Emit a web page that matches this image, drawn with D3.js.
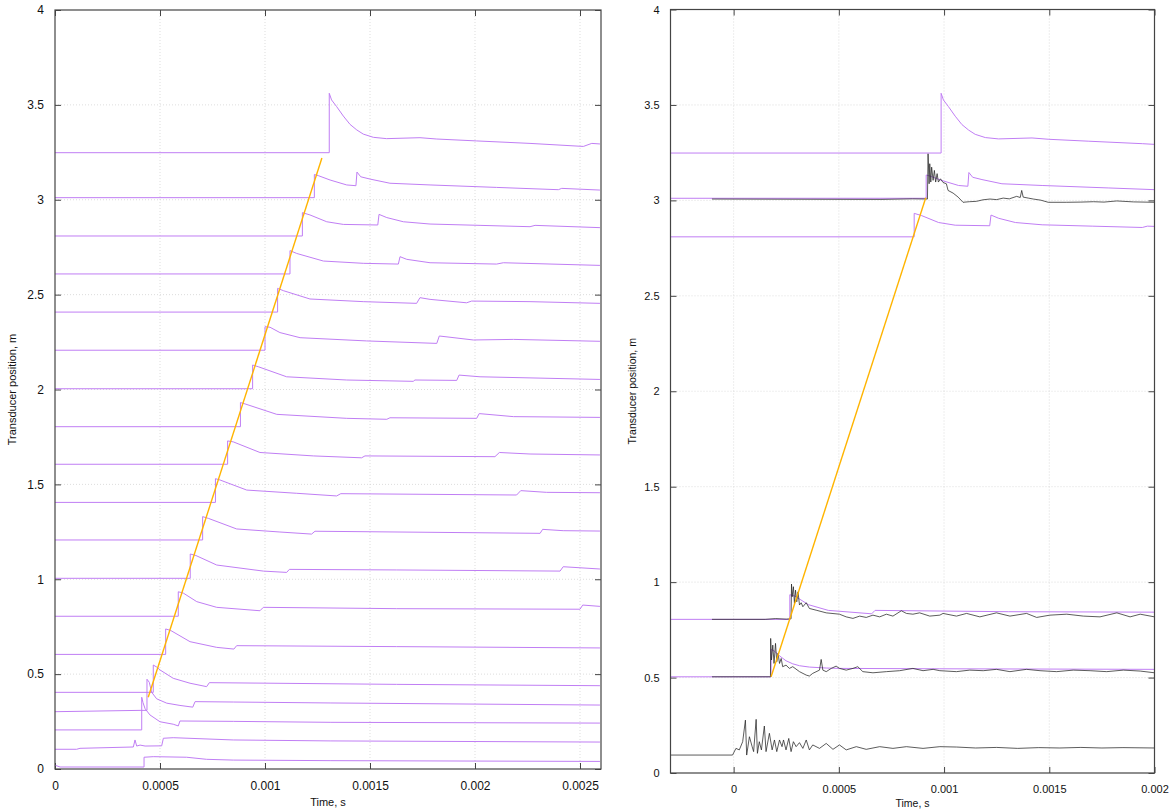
<!DOCTYPE html>
<html>
<head>
<meta charset="utf-8">
<script src="https://cdn.jsdelivr.net/npm/d3@7"></script>
<style>
  html, body { margin: 0; padding: 0; background: #fff; }
  svg { display: block; font-family: "Liberation Sans", Arial, sans-serif; }
</style>
</head>
<body>
<svg id="chart" width="1172" height="812"></svg>
<script>
// ---- axis ticks ----
const yTickValues = [0, 0.5, 1, 1.5, 2, 2.5, 3, 3.5, 4];
const xTickValuesLeft = [0, 0.0005, 0.001, 0.0015, 0.002, 0.0025];
const xTickValuesRight = [0, 0.0005, 0.001, 0.0015, 0.002];
const xDomainLeft = [0, 0.0026];
const xDomainRight = [-0.0003, 0.002];
const yDomain = [0, 4];
const xLabel = "Time, s";
const yLabel = "Transducer position, m";

// ---- simulated gauge traces [time s, position m] ----
const sim325 = [[0,3.248],[0.001306,3.248],[0.001306,3.561],[0.001317,3.526],[0.001341,3.491],[0.001373,3.441],[0.001405,3.397],[0.001437,3.368],[0.001468,3.346],[0.001516,3.329],[0.001579,3.322],[0.001738,3.327],[0.001818,3.320],[0.002008,3.310],[0.002262,3.297],[0.002516,3.281],[0.002556,3.297],[0.002595,3.294]];
const sim301 = [[0,3.011],[0.001235,3.011],[0.001235,3.133],[0.001254,3.127],[0.001310,3.104],[0.001389,3.078],[0.001433,3.074],[0.001438,3.146],[0.001456,3.121],[0.001500,3.109],[0.001595,3.087],[0.001786,3.078],[0.002103,3.065],[0.002397,3.053],[0.002413,3.060],[0.002595,3.051]];
const sim281 = [[0,2.809],[0.001178,2.809],[0.001178,2.932],[0.001214,2.920],[0.001294,2.884],[0.001373,2.870],[0.001537,2.867],[0.001543,2.923],[0.001580,2.906],[0.001659,2.884],[0.001786,2.872],[0.002024,2.865],[0.002262,2.858],[0.002286,2.865],[0.002595,2.853]];
const sim261 = [[0,2.609],[0.001119,2.609],[0.001119,2.732],[0.001151,2.717],[0.001278,2.677],[0.001468,2.665],[0.001635,2.661],[0.001643,2.700],[0.001675,2.686],[0.001786,2.668],[0.002103,2.661],[0.002135,2.668],[0.002595,2.654]];
const sim241 = [[0,2.408],[0.001060,2.408],[0.001060,2.533],[0.001087,2.521],[0.001214,2.477],[0.001468,2.463],[0.001722,2.454],[0.001738,2.484],[0.001786,2.475],[0.001960,2.457],[0.001984,2.466],[0.002262,2.463],[0.002595,2.454]];
const sim221 = [[0,2.207],[0.001000,2.207],[0.001000,2.331],[0.001024,2.328],[0.001071,2.300],[0.001167,2.273],[0.001484,2.256],[0.001818,2.243],[0.001830,2.282],[0.001992,2.261],[0.002183,2.264],[0.002595,2.254]];
const sim201 = [[0,2.004],[0.000941,2.004],[0.000941,2.129],[0.000968,2.120],[0.001103,2.067],[0.001389,2.050],[0.001706,2.043],[0.001714,2.050],[0.001913,2.048],[0.001924,2.076],[0.002024,2.067],[0.002595,2.053]];
const sim181 = [[0,1.804],[0.000883,1.804],[0.000883,1.931],[0.000905,1.924],[0.001056,1.869],[0.001389,1.848],[0.001580,1.843],[0.001595,1.851],[0.002008,1.848],[0.002020,1.873],[0.002183,1.857],[0.002595,1.853]];
const sim161 = [[0,1.606],[0.000822,1.606],[0.000822,1.729],[0.000849,1.724],[0.000976,1.668],[0.001230,1.650],[0.001460,1.640],[0.001476,1.650],[0.002095,1.646],[0.002116,1.668],[0.002262,1.660],[0.002595,1.655]];
const sim141 = [[0,1.405],[0.000764,1.405],[0.000764,1.530],[0.000786,1.523],[0.000913,1.470],[0.001151,1.453],[0.001341,1.439],[0.001361,1.451],[0.002198,1.444],[0.002218,1.467],[0.002341,1.458],[0.002595,1.456]];
const sim121 = [[0,1.207],[0.000703,1.207],[0.000703,1.330],[0.000730,1.321],[0.000865,1.265],[0.001071,1.249],[0.001222,1.238],[0.001238,1.253],[0.002310,1.242],[0.002322,1.263],[0.002420,1.256],[0.002595,1.254]];
const sim101 = [[0,1.005],[0.000644,1.005],[0.000644,1.133],[0.000671,1.125],[0.000770,1.075],[0.000992,1.043],[0.001103,1.036],[0.001116,1.052],[0.001627,1.049],[0.002405,1.043],[0.002420,1.066],[0.002595,1.054]];
const sim081 = [[0,0.805],[0.000587,0.805],[0.000587,0.934],[0.000611,0.927],[0.000675,0.882],[0.000770,0.852],[0.000976,0.834],[0.000992,0.852],[0.001627,0.845],[0.002500,0.842],[0.002513,0.864],[0.002595,0.857]];
const sim061 = [[0,0.604],[0.000527,0.604],[0.000527,0.738],[0.000551,0.730],[0.000643,0.671],[0.000770,0.641],[0.000852,0.632],[0.000865,0.650],[0.001627,0.645],[0.002595,0.638]];
const sim041 = [[0,0.404],[0.000468,0.404],[0.000468,0.548],[0.000486,0.536],[0.000500,0.522],[0.000563,0.478],[0.000643,0.452],[0.000722,0.434],[0.000735,0.455],[0.001627,0.446],[0.002595,0.439]];
const sim031 = [[0,0.302],[0.000405,0.309],[0.000438,0.309],[0.000438,0.473],[0.000449,0.457],[0.000460,0.405],[0.000484,0.370],[0.000532,0.347],[0.000595,0.335],[0.000656,0.326],[0.000667,0.355],[0.000849,0.353],[0.001310,0.348],[0.002595,0.337]];
const sim021 = [[0,0.206],[0.000413,0.206],[0.000413,0.378],[0.000419,0.350],[0.000429,0.318],[0.000452,0.285],[0.000500,0.249],[0.000563,0.236],[0.000587,0.227],[0.000595,0.253],[0.000849,0.251],[0.001310,0.246],[0.002595,0.242]];
const sim011 = [[0,0.104],[0.000103,0.104],[0.000119,0.109],[0.000373,0.116],[0.000381,0.153],[0.000389,0.121],[0.000405,0.126],[0.000429,0.121],[0.000508,0.122],[0.000516,0.162],[0.000563,0.165],[0.000849,0.153],[0.001310,0.148],[0.002595,0.142]];
const sim001 = [[0,0.020],[0.000024,0.0105],[0.000424,0.0105],[0.000424,0.062],[0.000468,0.065],[0.000627,0.062],[0.000722,0.051],[0.000849,0.047],[0.001310,0.044],[0.002595,0.040]];

// shock front fitted through arrival times
const frontLeft = [[0.000444, 0.378], [0.001271, 3.22]];

// ---- right panel: simulation re-timed to the measured trigger ----
const rightTimeShift = -0.00032;
const sim050 = [[-0.0003,0.504],[0.000178,0.504],[0.000178,0.648],[0.000192,0.640],[0.000220,0.612],[0.000249,0.588],[0.000281,0.572],[0.000313,0.562],[0.000360,0.555],[0.000440,0.550],[0.000503,0.548],[0.000980,0.546],[0.002000,0.543]];

// ---- measured gauge traces ----
const meas300 = [[-0.000103,3.007],[0.000700,3.005],[0.000850,3.008],[0.000921,3.007],[0.000924,3.244],[0.000929,3.087],[0.000932,3.192],[0.000937,3.096],[0.000941,3.174],[0.000948,3.105],[0.000954,3.157],[0.000960,3.096],[0.000967,3.140],[0.000973,3.096],[0.000983,3.113],[0.000995,3.094],[0.001011,3.087],[0.001019,3.052],[0.001043,3.038],[0.001067,3.017],[0.001090,2.990],[0.001120,2.993],[0.001154,2.995],[0.001185,3.003],[0.001218,3.007],[0.001250,3.004],[0.001281,3.012],[0.001310,3.008],[0.001345,3.021],[0.001362,3.015],[0.001369,3.052],[0.001376,3.017],[0.001400,3.012],[0.001424,3.007],[0.001460,3.001],[0.001495,2.990],[0.001583,2.990],[0.001650,2.991],[0.001710,2.993],[0.001760,2.991],[0.001821,2.997],[0.001900,2.992],[0.002000,2.990]];
const meas080 = [[-0.000103,0.805],[0.000150,0.805],[0.000200,0.809],[0.000250,0.806],[0.000273,0.808],[0.000275,0.990],[0.000278,0.923],[0.000284,0.976],[0.000289,0.888],[0.000294,0.958],[0.000300,0.897],[0.000306,0.949],[0.000313,0.880],[0.000321,0.892],[0.000329,0.871],[0.000345,0.892],[0.000360,0.862],[0.000392,0.853],[0.000440,0.839],[0.000503,0.832],[0.000535,0.818],[0.000567,0.810],[0.000599,0.822],[0.000630,0.815],[0.000662,0.827],[0.000694,0.818],[0.000726,0.832],[0.000757,0.822],[0.000797,0.850],[0.000821,0.836],[0.000852,0.832],[0.000884,0.839],[0.000932,0.822],[0.000980,0.827],[0.000995,0.836],[0.001059,0.822],[0.001107,0.836],[0.001170,0.818],[0.001249,0.839],[0.001313,0.822],[0.001392,0.836],[0.001440,0.815],[0.001503,0.827],[0.001583,0.832],[0.001662,0.822],[0.001741,0.818],[0.001821,0.839],[0.001884,0.818],[0.001932,0.832],[0.002000,0.818]];
const meas050 = [[-0.000103,0.504],[0.000175,0.504],[0.000176,0.705],[0.000180,0.592],[0.000186,0.670],[0.000192,0.574],[0.000199,0.679],[0.000205,0.583],[0.000211,0.627],[0.000218,0.574],[0.000226,0.600],[0.000233,0.557],[0.000249,0.565],[0.000265,0.548],[0.000281,0.557],[0.000313,0.531],[0.000345,0.513],[0.000360,0.508],[0.000376,0.522],[0.000408,0.539],[0.000416,0.595],[0.000424,0.539],[0.000440,0.531],[0.000464,0.548],[0.000487,0.560],[0.000503,0.548],[0.000535,0.539],[0.000567,0.548],[0.000590,0.557],[0.000614,0.531],[0.000662,0.525],[0.000726,0.531],[0.000789,0.536],[0.000852,0.548],[0.000900,0.536],[0.000948,0.543],[0.000980,0.536],[0.001059,0.531],[0.001122,0.539],[0.001186,0.536],[0.001249,0.543],[0.001313,0.531],[0.001392,0.543],[0.001456,0.536],[0.001535,0.531],[0.001614,0.539],[0.001694,0.536],[0.001773,0.531],[0.001852,0.539],[0.001932,0.534],[0.002000,0.525]];
const meas010 = [[-0.0003,0.094],[-0.000005,0.094],[0.000011,0.129],[0.000027,0.121],[0.000043,0.164],[0.000056,0.277],[0.000062,0.094],[0.000075,0.190],[0.000088,0.138],[0.000095,0.112],[0.000107,0.281],[0.000113,0.103],[0.000122,0.164],[0.000132,0.121],[0.000146,0.246],[0.000154,0.112],[0.000170,0.208],[0.000183,0.121],[0.000194,0.173],[0.000205,0.112],[0.000218,0.173],[0.000230,0.138],[0.000237,0.173],[0.000249,0.121],[0.000262,0.181],[0.000273,0.112],[0.000284,0.164],[0.000297,0.138],[0.000313,0.159],[0.000329,0.129],[0.000345,0.173],[0.000360,0.121],[0.000376,0.147],[0.000408,0.129],[0.000440,0.155],[0.000472,0.124],[0.000503,0.147],[0.000535,0.121],[0.000583,0.138],[0.000630,0.124],[0.000694,0.138],[0.000757,0.129],[0.000821,0.138],[0.000900,0.129],[0.000980,0.138],[0.001060,0.136],[0.001150,0.131],[0.001250,0.134],[0.001350,0.129],[0.001450,0.133],[0.001550,0.131],[0.001650,0.134],[0.001750,0.131],[0.001850,0.133],[0.002000,0.131]];

const frontRight = [[0.000178, 0.504], [0.000913, 3.014]];

const simLeft = [sim325, sim301, sim281, sim261, sim241, sim221, sim201, sim181, sim161, sim141, sim121, sim101, sim081, sim061, sim041, sim031, sim021, sim011, sim001];
const simRight = [sim325, sim301, sim281, sim081];
const measRight = [meas300, meas080, meas050, meas010];

// ---- styles ----
const simColor = "#c07ef4";
const measColor = "#262626";
const frontColor = "#ffb400";
const frameColor = "#444";
const gridColor = "#d4d4d4";

const svg = d3.select("#chart");

function drawPanel(cfg) {
  const { left, right, top, bottom, xDomain, xTicks, fontSize, id } = cfg;
  const x = d3.scaleLinear().domain(xDomain).range([left, right]);
  const y = d3.scaleLinear().domain(yDomain).range([bottom, top]);
  const g = svg.append("g");

  g.append("clipPath").attr("id", id).append("rect")
    .attr("x", left).attr("y", top).attr("width", right - left).attr("height", bottom - top);

  // grid
  const grid = g.append("g").attr("stroke", gridColor).attr("stroke-width", 0.8).attr("stroke-dasharray", "1,2");
  grid.selectAll("line.gx").data(xTicks.filter(d => x(d) > left + 1 && x(d) < right - 1)).enter().append("line")
    .attr("x1", d => x(d)).attr("x2", d => x(d)).attr("y1", top).attr("y2", bottom);
  grid.selectAll("line.gy").data(yTickValues.filter(d => d > 0 && d < 4)).enter().append("line")
    .attr("x1", left).attr("x2", right).attr("y1", d => y(d)).attr("y2", d => y(d));

  // axes (ticks inward, mirrored)
  const tickLen = 6;
  const axB = d3.axisBottom(x).tickValues(xTicks).tickSize(-tickLen).tickPadding(tickLen + 6).tickFormat(d => String(d));
  const axT = d3.axisTop(x).tickValues(xTicks).tickSize(-tickLen).tickFormat("");
  const axL = d3.axisLeft(y).tickValues(yTickValues).tickSize(-tickLen).tickPadding(tickLen + 5).tickFormat(d => String(d));
  const axR = d3.axisRight(y).tickValues(yTickValues).tickSize(-tickLen).tickFormat("");
  const styleAxis = sel => {
    sel.select(".domain").remove();
    sel.selectAll(".tick line").attr("stroke", frameColor).attr("stroke-width", 1);
    sel.selectAll(".tick text").attr("fill", "#111").attr("font-size", fontSize)
      .attr("font-family", "'Liberation Sans', Arial, sans-serif");
  };
  g.append("g").attr("transform", `translate(0,${bottom})`).call(axB).call(styleAxis);
  g.append("g").attr("transform", `translate(0,${top})`).call(axT).call(styleAxis);
  g.append("g").attr("transform", `translate(${left},0)`).call(axL).call(styleAxis);
  g.append("g").attr("transform", `translate(${right},0)`).call(axR).call(styleAxis);

  const plot = g.append("g").attr("clip-path", `url(#${id})`);
  const line = d3.line().x(d => x(d[0])).y(d => y(d[1]));
  return { g, x, y, plot, line, cfg };
}

function drawFrame(p) {
  const { left, right, top, bottom, labelSize, yLabelX } = p.cfg;
  p.g.append("rect").attr("x", left).attr("y", top).attr("width", right - left).attr("height", bottom - top)
    .attr("fill", "none").attr("stroke", frameColor).attr("stroke-width", 1.2);
  p.g.append("text").attr("x", (left + right) / 2).attr("y", p.cfg.xLabelY)
    .attr("text-anchor", "middle").attr("font-size", labelSize).attr("fill", "#111").text(xLabel);
  p.g.append("text").attr("transform", `translate(${yLabelX},${(top + bottom) / 2}) rotate(-90)`)
    .attr("text-anchor", "middle").attr("font-size", labelSize).attr("fill", "#111").text(yLabel);
}

// ---- left panel: all simulated gauges ----
const pL = drawPanel({ id: "clipL", left: 55, right: 601, top: 10, bottom: 769,
  xDomain: xDomainLeft, xTicks: xTickValuesLeft, fontSize: 12, labelSize: 11, xLabelY: 806, yLabelX: 16 });
pL.plot.selectAll("path.sim").data(simLeft).enter().append("path")
  .attr("d", pL.line).attr("fill", "none").attr("stroke", simColor).attr("stroke-width", 1);
pL.plot.append("path").datum(frontLeft).attr("d", pL.line)
  .attr("fill", "none").attr("stroke", frontColor).attr("stroke-width", 1.4);
drawFrame(pL);

// ---- right panel: simulation vs. measurement ----
const pR = drawPanel({ id: "clipR", left: 670.5, right: 1154.5, top: 9.5, bottom: 773,
  xDomain: xDomainRight, xTicks: xTickValuesRight, fontSize: 11, labelSize: 10.5, xLabelY: 807, yLabelX: 636 });
const simRightShifted = simRight.map(tr => tr.map(d => [d[0] + rightTimeShift, d[1]])).concat([sim050]);
pR.plot.selectAll("path.sim").data(simRightShifted).enter().append("path")
  .attr("d", pR.line).attr("fill", "none").attr("stroke", simColor).attr("stroke-width", 1);
pR.plot.selectAll("path.meas").data(measRight).enter().append("path")
  .attr("d", pR.line).attr("fill", "none").attr("stroke", measColor).attr("stroke-width", 0.75);
pR.plot.append("path").datum(frontRight).attr("d", pR.line)
  .attr("fill", "none").attr("stroke", frontColor).attr("stroke-width", 1.4);
drawFrame(pR);
</script>
</body>
</html>
